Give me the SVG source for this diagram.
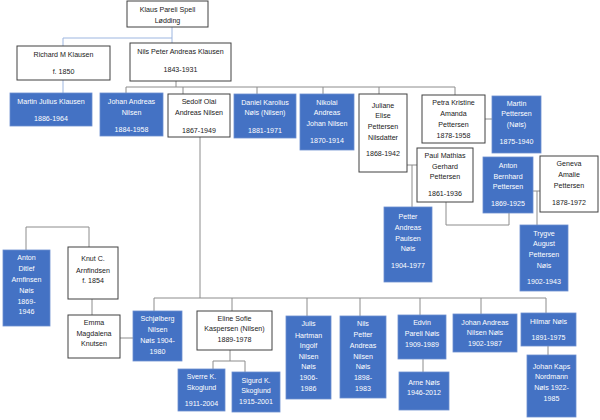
<svg xmlns="http://www.w3.org/2000/svg" width="600" height="420" viewBox="0 0 600 420">
<style>
.b{fill:#4472C4;stroke:#6C8ED0;stroke-width:0.8}
.w{fill:#fff;stroke:#404040;stroke-width:1}
text{font-family:"Liberation Sans",Arial,sans-serif;font-size:7.1px;text-anchor:middle}
.bt{fill:#fff}
.wt{fill:#1a1a1a}
.c path{fill:none;stroke:#8c8c8c;stroke-width:1}
.c path.lb{stroke:#9DB6E0}
</style>
<rect width="600" height="420" fill="#fff"/>
<g class="c">
<path class="lb" d="M172 27V43M172 38H63V46M63 80V93"/>
<path d="M176 81V87M126 87H455M126 87V93M183 87V94M257 87V94M323 87V94M379 87V94M455 87V95"/>
<path d="M485 119H492"/>
<path d="M407 165H417M412 165V207"/>
<path d="M533 191H540M537 191V225"/>
<path d="M446 202V225H509V213"/>
<path d="M200 137V298M154 298H546M154 298V311M232 298V311M307 298V316M360 298V316M420 298V315M481 298V314M546 298V313"/>
<path d="M26 250V227H89V247M92 299V315M120 338H133"/>
<path d="M230 350V361M213 361H245M213 361V369M245 361V372"/>
<path d="M423 359V372M548 346V355"/>
</g>
<g id="klaus"><rect class="w" x="127" y="1" width="81" height="26"/><text class="wt" x="167.5" y="12">Klaus Pareli Spell</text><text class="wt" x="167.5" y="23">Lødding</text></g>
<g id="richard"><rect class="w" x="17" y="46" width="93" height="34"/><text class="wt" x="63.5" y="57">Richard M Klausen</text><text class="wt" x="63.5" y="74">f. 1850</text></g>
<g id="nilspeter"><rect class="w" x="130" y="43" width="101" height="38"/><text class="wt" x="180.5" y="54">Nils Peter Andreas Klausen</text><text class="wt" x="180.5" y="72">1843-1931</text></g>
<g id="martinjulius"><rect class="b" x="10" y="93" width="82" height="33"/><text class="bt" x="51" y="104">Martin Julius Klausen</text><text class="bt" x="51" y="121">1886-1964</text></g>
<g id="johanandreas"><rect class="b" x="100" y="93" width="63" height="43"/><text class="bt" x="131.5" y="104">Johan Andreas</text><text class="bt" x="131.5" y="115">Nilsen</text><text class="bt" x="131.5" y="132">1884-1958</text></g>
<g id="sedolf"><rect class="w" x="168" y="94" width="62" height="43"/><text class="wt" x="199" y="104">Sedolf Olai</text><text class="wt" x="199" y="115">Andreas Nilsen</text><text class="wt" x="199" y="133">1867-1949</text></g>
<g id="daniel"><rect class="b" x="234" y="94" width="62" height="44"/><text class="bt" x="265" y="105">Daniel Karolius</text><text class="bt" x="265" y="115">Nøis (Nilsen)</text><text class="bt" x="265" y="133">1881-1971</text></g>
<g id="nikolai"><rect class="b" x="300" y="94" width="54" height="56"/><text class="bt" x="327" y="105">Nikolai</text><text class="bt" x="327" y="115">Andreas</text><text class="bt" x="327" y="126">Johan Nilsen</text><text class="bt" x="327" y="143">1870-1914</text></g>
<g id="juliane"><rect class="w" x="359" y="94" width="48" height="78"/><text class="wt" x="383" y="108">Juliane</text><text class="wt" x="383" y="118">Elise</text><text class="wt" x="383" y="129">Pettersen</text><text class="wt" x="383" y="140">Nilsdatter</text><text class="wt" x="383" y="156">1868-1942</text></g>
<g id="petra"><rect class="w" x="422" y="95" width="63" height="48"/><text class="wt" x="453.5" y="105">Petra Kristine</text><text class="wt" x="453.5" y="116">Amanda</text><text class="wt" x="453.5" y="127">Pettersen</text><text class="wt" x="453.5" y="138">1878-1958</text></g>
<g id="martinpettersen"><rect class="b" x="492" y="96" width="49" height="57"/><text class="bt" x="516.5" y="106">Martin</text><text class="bt" x="516.5" y="116">Pettersen</text><text class="bt" x="516.5" y="127">(Nøis)</text><text class="bt" x="516.5" y="144">1875-1940</text></g>
<g id="paul"><rect class="w" x="417" y="148" width="56" height="54"/><text class="wt" x="445" y="158">Paul Mathias</text><text class="wt" x="445" y="169">Gerhard</text><text class="wt" x="445" y="179">Pettersen</text><text class="wt" x="445" y="196">1861-1936</text></g>
<g id="antonbernhard"><rect class="b" x="483" y="157" width="50" height="56"/><text class="bt" x="508" y="168">Anton</text><text class="bt" x="508" y="179">Bernhard</text><text class="bt" x="508" y="189">Pettersen</text><text class="bt" x="508" y="206">1869-1925</text></g>
<g id="geneva"><rect class="w" x="540" y="156" width="58" height="56"/><text class="wt" x="569" y="166">Geneva</text><text class="wt" x="569" y="177">Amalie</text><text class="wt" x="569" y="188">Pettersen</text><text class="wt" x="569" y="205">1878-1972</text></g>
<g id="petter"><rect class="b" x="384" y="207" width="48" height="75"/><text class="bt" x="408" y="219">Petter</text><text class="bt" x="408" y="230">Andreas</text><text class="bt" x="408" y="241">Paulsen</text><text class="bt" x="408" y="251">Nøis</text><text class="bt" x="408" y="268">1904-1977</text></g>
<g id="trygve"><rect class="b" x="520" y="225" width="48" height="66"/><text class="bt" x="544" y="236">Trygve</text><text class="bt" x="544" y="246">August</text><text class="bt" x="544" y="257">Pettersen</text><text class="bt" x="544" y="268">Nøis</text><text class="bt" x="544" y="284">1902-1943</text></g>
<g id="antonditlef"><rect class="b" x="3" y="250" width="47" height="76"/><text class="bt" x="26.5" y="260">Anton</text><text class="bt" x="26.5" y="271">Ditlef</text><text class="bt" x="26.5" y="282">Arnfinsen</text><text class="bt" x="26.5" y="293">Nøis</text><text class="bt" x="26.5" y="304">1869-</text><text class="bt" x="26.5" y="314">1946</text></g>
<g id="knut"><rect class="w" x="68" y="247" width="50" height="52"/><text class="wt" x="93" y="261">Knut C.</text><text class="wt" x="93" y="273">Arnfindsen</text><text class="wt" x="93" y="283">f. 1854</text></g>
<g id="emma"><rect class="w" x="68" y="315" width="52" height="43"/><text class="wt" x="94" y="325">Emma</text><text class="wt" x="94" y="336">Magdalena</text><text class="wt" x="94" y="346">Knutsen</text></g>
<g id="schjolberg"><rect class="b" x="133" y="311" width="49" height="50"/><text class="bt" x="157.5" y="321">Schjølberg</text><text class="bt" x="157.5" y="332">Nilsen</text><text class="bt" x="157.5" y="343">Nøis 1904-</text><text class="bt" x="157.5" y="354">1980</text></g>
<g id="eline"><rect class="w" x="197" y="311" width="75" height="39"/><text class="wt" x="234.5" y="321">Eline Sofie</text><text class="wt" x="234.5" y="331">Kaspersen (Nilsen)</text><text class="wt" x="234.5" y="342">1889-1978</text></g>
<g id="sverre"><rect class="b" x="178" y="369" width="47" height="42"/><text class="bt" x="201.5" y="379">Sverre K.</text><text class="bt" x="201.5" y="390">Skoglund</text><text class="bt" x="201.5" y="406">1911-2004</text></g>
<g id="sigurd"><rect class="b" x="232" y="372" width="48" height="40"/><text class="bt" x="256" y="383">Sigurd K.</text><text class="bt" x="256" y="393">Skoglund</text><text class="bt" x="256" y="404">1915-2001</text></g>
<g id="julis"><rect class="b" x="286" y="316" width="45" height="83"/><text class="bt" x="308.5" y="326">Julis</text><text class="bt" x="308.5" y="338">Hartman</text><text class="bt" x="308.5" y="348">Ingolf</text><text class="bt" x="308.5" y="359">Nilsen</text><text class="bt" x="308.5" y="369">Nøis</text><text class="bt" x="308.5" y="380">1906-</text><text class="bt" x="308.5" y="391">1986</text></g>
<g id="nilspetter"><rect class="b" x="340" y="316" width="46" height="82"/><text class="bt" x="363" y="326">Nils</text><text class="bt" x="363" y="337">Petter</text><text class="bt" x="363" y="348">Andreas</text><text class="bt" x="363" y="359">Nilsen</text><text class="bt" x="363" y="369">Nøis</text><text class="bt" x="363" y="380">1898-</text><text class="bt" x="363" y="391">1983</text></g>
<g id="edvin"><rect class="b" x="398" y="315" width="48" height="44"/><text class="bt" x="422" y="325">Edvin</text><text class="bt" x="422" y="336">Pareli Nøis</text><text class="bt" x="422" y="347">1909-1989</text></g>
<g id="arne"><rect class="b" x="399" y="372" width="50" height="38"/><text class="bt" x="424" y="385">Arne Nøis</text><text class="bt" x="424" y="395">1946-2012</text></g>
<g id="johanandreasnois"><rect class="b" x="453" y="314" width="64" height="38"/><text class="bt" x="485" y="325">Johan Andreas</text><text class="bt" x="485" y="335">Nilsen Nøis</text><text class="bt" x="485" y="346">1902-1987</text></g>
<g id="hilmar"><rect class="b" x="521" y="313" width="55" height="33"/><text class="bt" x="548.5" y="324">Hilmar Nøis</text><text class="bt" x="548.5" y="340">1891-1975</text></g>
<g id="johankaps"><rect class="b" x="527" y="355" width="49" height="62"/><text class="bt" x="551.5" y="369">Johan Kaps</text><text class="bt" x="551.5" y="379">Nordmann</text><text class="bt" x="551.5" y="390">Nøis 1922-</text><text class="bt" x="551.5" y="401">1985</text></g>
</svg>
